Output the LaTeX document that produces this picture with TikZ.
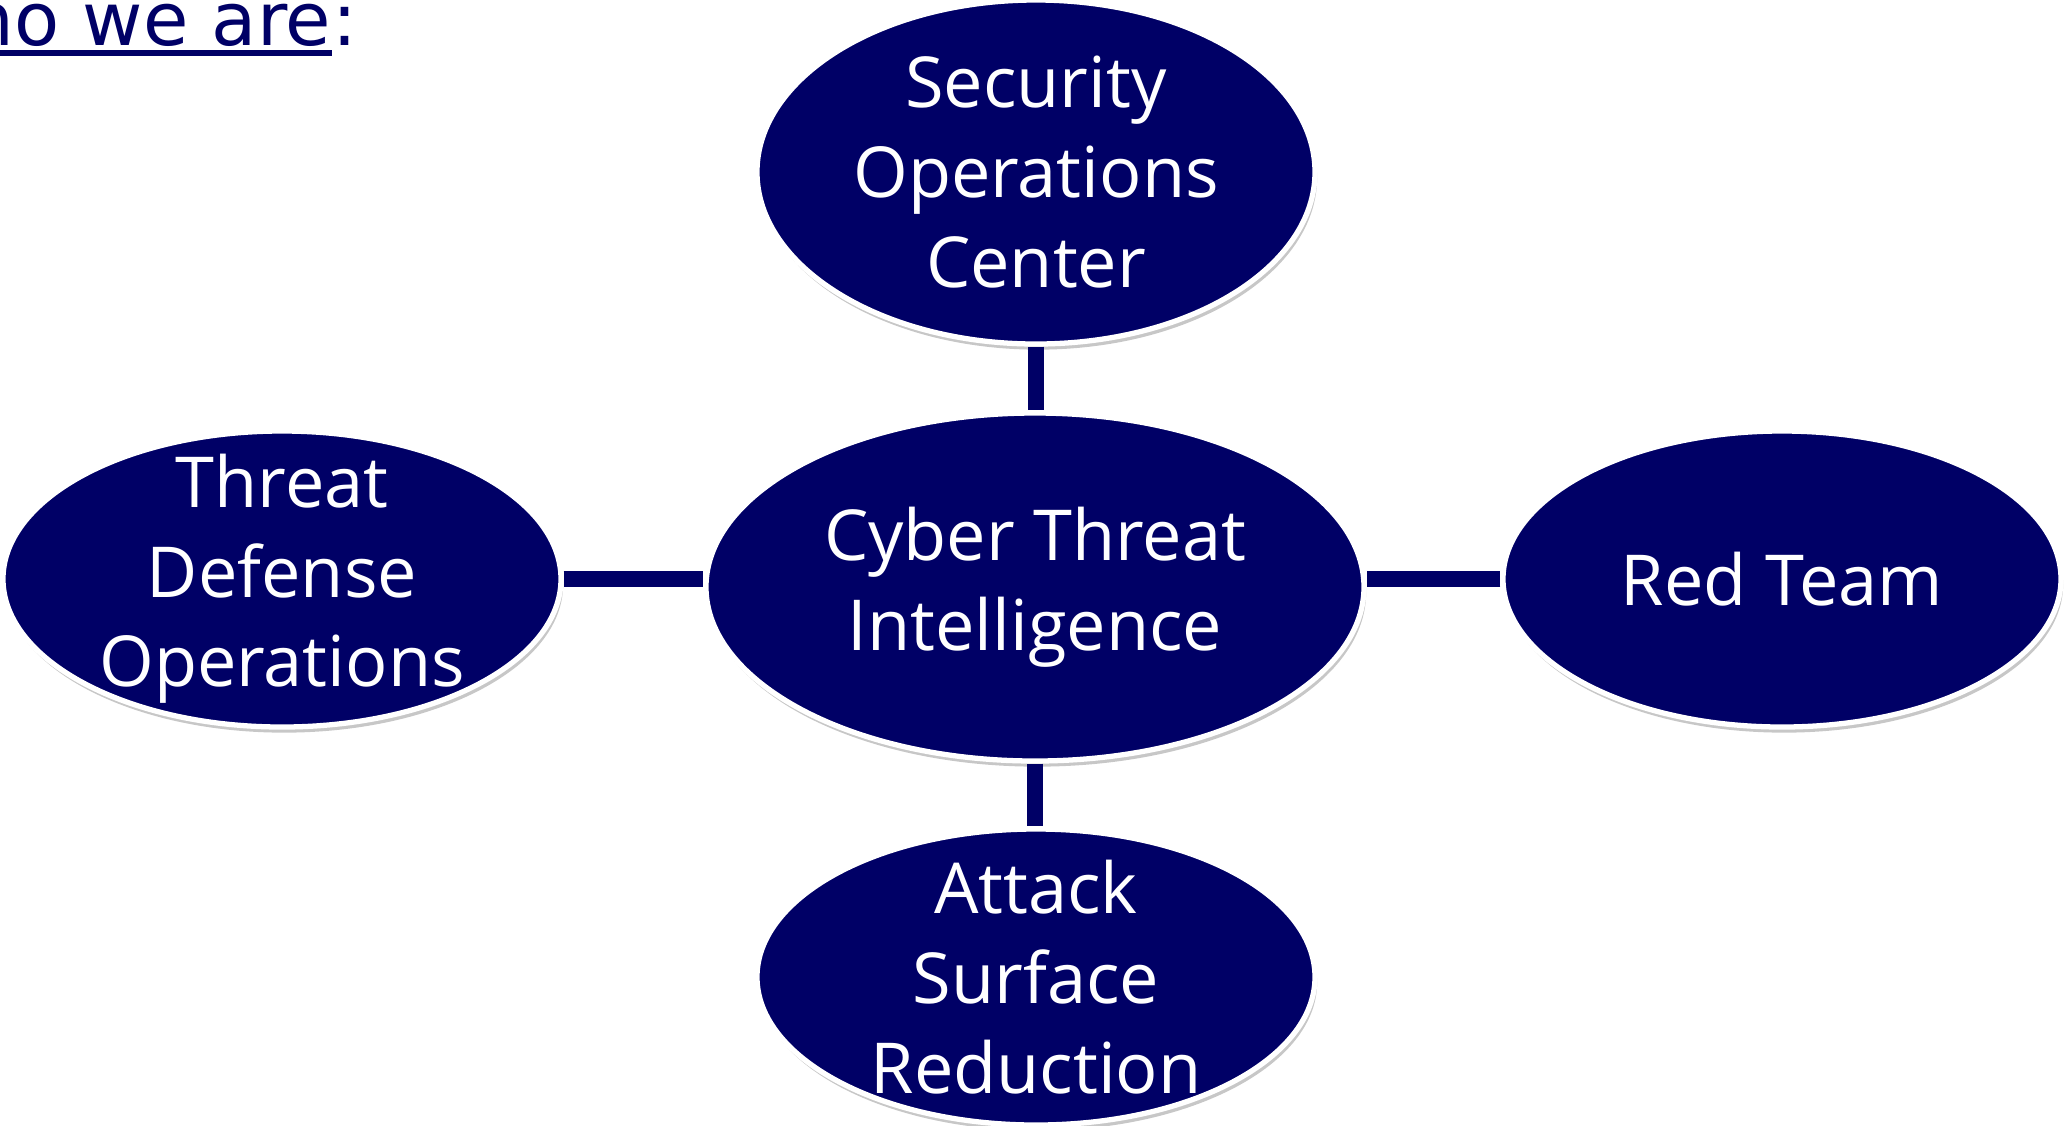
\documentclass[tikz,border=0pt]{standalone}
\usepackage{fontspec}
\setmainfont{Open Sans}
\newfontfamily\headfont{DejaVu Sans}
\usetikzlibrary{shapes.geometric,shadows}
\definecolor{navy}{RGB}{0,0,102}
\tikzset{
  bubble/.style={ellipse, fill=navy, draw=white, line width=1.5pt, inner sep=0pt,
    drop shadow={shadow xshift=0.6pt, shadow yshift=-1.6pt, opacity=0.22, fill=black}},
  bubbletext/.style={text=white, align=center, inner sep=0pt,
    font=\fontsize{20}{25.5}\selectfont},
  headtext/.style={inner sep=0pt, text=navy, font=\headfont\fontsize{21}{26}\selectfont},
  link/.style={draw=navy, line width=0.16cm}
}
\begin{document}
\begin{tikzpicture}
  \useasboundingbox (0,0) rectangle (20.64,-11.25);
  \node (title) [headtext, anchor=base east] at (3.32,-0.45) {Who we are};
  \node (colon) [headtext, anchor=base west] at (title.base east) {:};
  \draw[navy, line width=1.7pt] ([yshift=-0.08cm]title.base west) -- ([yshift=-0.08cm]title.base east);
  \path
    (10.36,-1.72) node[bubble, minimum width=5.58cm, minimum height=3.44cm,
      label={[bubbletext]center:Security\\Operations\\Center}] (soc) {}
    (10.35,-5.87) node[bubble, minimum width=6.58cm, minimum height=3.48cm,
      label={[bubbletext]center:Cyber Threat\\Intelligence}] (cti) {}
    (2.82,-5.79) node[bubble, minimum width=5.58cm, minimum height=2.96cm,
      label={[bubbletext]center:Threat\\Defense\\Operations}] (tdo) {}
    (17.82,-5.79) node[bubble, minimum width=5.58cm, minimum height=2.96cm,
      label={[bubbletext]center:Red Team}] (red) {}
    (10.36,-9.77) node[bubble, minimum width=5.58cm, minimum height=2.96cm,
      label={[bubbletext]center:Attack\\Surface\\Reduction}] (asr) {};
  \begin{scope}[link]
    \draw (soc.south) to (soc.south |- cti.north);
    \draw (tdo.east) to (tdo.east -| cti.west);
    \draw (red.west) to (red.west -| cti.east);
    \draw (cti.south) to (cti.south |- asr.north);
  \end{scope}
\end{tikzpicture}
\end{document}
